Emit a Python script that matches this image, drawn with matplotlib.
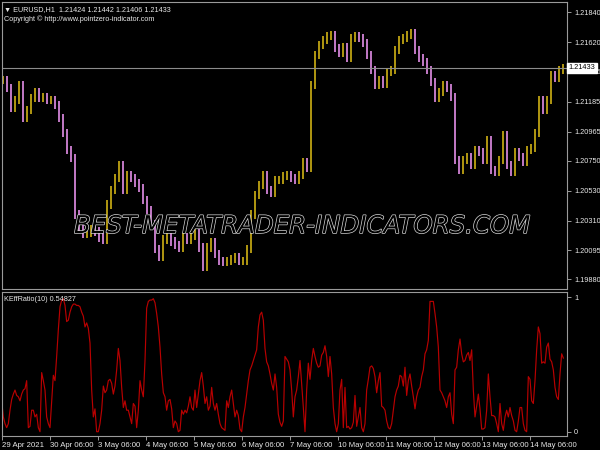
import numpy as np
import matplotlib.pyplot as plt
import matplotlib.patheffects as pe
from matplotlib.transforms import blended_transform_factory

# EURUSD H1 closes, one value every 2 bars
closes = [
    1.21343, 1.21284, 1.21138, 1.21196, 1.21306, 1.21065, 1.21123, 1.21211, 1.21255, 1.21211,
    1.21218, 1.21196, 1.21196, 1.21160, 1.21065, 1.20955, 1.20831, 1.20772, 1.20356, 1.20260,
    1.20210, 1.20224, 1.20246, 1.20231, 1.20187, 1.20173, 1.20429, 1.20538, 1.20626, 1.20721,
    1.20538, 1.20648, 1.20626, 1.20590, 1.20553, 1.20465, 1.20392, 1.20282, 1.20100, 1.20041,
    1.20173, 1.20187, 1.20158, 1.20129, 1.20114, 1.20187, 1.20173, 1.20202, 1.20224, 1.20114,
    1.19968, 1.20114, 1.20151, 1.20063, 1.20012, 1.20005, 1.20012, 1.20027, 1.20041, 1.20012,
    1.20012, 1.20100, 1.20356, 1.20502, 1.20575, 1.20648, 1.20538, 1.20516, 1.20611, 1.20611,
    1.20641, 1.20648, 1.20626, 1.20611, 1.20648, 1.20743, 1.20699, 1.21306, 1.21526, 1.21599,
    1.21635, 1.21665, 1.21672, 1.21577, 1.21540, 1.21584, 1.21504, 1.21650, 1.21665, 1.21650,
    1.21613, 1.21526, 1.21416, 1.21306, 1.21343, 1.21313, 1.21401, 1.21416, 1.21562, 1.21635,
    1.21650, 1.21672, 1.21686, 1.21562, 1.21504, 1.21474, 1.21416, 1.21328, 1.21211, 1.21255,
    1.21306, 1.21284, 1.21218, 1.20758, 1.20685, 1.20758, 1.20780, 1.20721, 1.20831, 1.20816,
    1.20758, 1.20904, 1.20685, 1.20670, 1.20758, 1.20940, 1.20721, 1.20670, 1.20816, 1.20780,
    1.20743, 1.20831, 1.20845, 1.20955, 1.21196, 1.21123, 1.21196, 1.21379, 1.21357, 1.21416,
    1.21433,
]

# KEffRatio(10) values
keff = [
    0.44, 0.23, 0.11, 0.06, 0.03, 0.06, 0.16, 0.24, 0.28, 0.31,
    0.27, 0.26, 0.23, 0.28, 0.31, 0.32, 0.38, 0.03, 0.04, 0.16,
    0.16, 0.11, 0.13, 0.03, 0.00, 0.44, 0.38, 0.31, 0.11, 0.06,
    0.03, 0.23, 0.42, 0.38, 0.56, 0.76, 0.93, 0.98, 0.99, 0.94,
    0.82, 0.83, 0.89, 0.93, 0.95, 0.95, 0.94, 0.94, 0.93, 0.89,
    0.86, 0.78, 0.81, 0.77, 0.66, 0.31, 0.11, 0.17, 0.00, 0.00,
    0.06, 0.16, 0.34, 0.29, 0.31, 0.38, 0.39, 0.36, 0.28, 0.34,
    0.46, 0.62, 0.53, 0.33, 0.18, 0.23, 0.16, 0.16, 0.11, 0.06,
    0.21, 0.19, 0.03, 0.16, 0.38, 0.31, 0.26, 0.53, 0.92, 0.97,
    0.98, 0.98, 0.99, 0.96, 0.88, 0.78, 0.63, 0.43, 0.29, 0.26,
    0.16, 0.23, 0.24, 0.17, 0.03, 0.08, 0.06, 0.00, 0.01, 0.16,
    0.13, 0.16, 0.14, 0.19, 0.26, 0.18, 0.16, 0.31, 0.18, 0.28,
    0.38, 0.44, 0.34, 0.21, 0.26, 0.16, 0.19, 0.33, 0.21, 0.16,
    0.21, 0.13, 0.06, 0.03, 0.02, 0.01, 0.23, 0.18, 0.26, 0.31,
    0.21, 0.11, 0.16, 0.12, 0.02, 0.00, 0.11, 0.18, 0.28, 0.38,
    0.46, 0.49, 0.53, 0.57, 0.61, 0.78, 0.87, 0.89, 0.83, 0.62,
    0.52, 0.49, 0.43, 0.36, 0.31, 0.43, 0.33, 0.13,
    0.07, 0.04, 0.08, 0.56, 0.54, 0.52, 0.46, 0.31, 0.11, 0.26,
    0.31, 0.41, 0.53, 0.36, 0.18, 0.00, 0.31, 0.51, 0.39, 0.53,
    0.62, 0.56, 0.51, 0.48, 0.49, 0.57, 0.59, 0.64, 0.56, 0.41,
    0.56, 0.43, 0.18, 0.06, 0.00, 0.06, 0.31, 0.39, 0.03, 0.33,
    0.03, 0.04, 0.02, 0.03, 0.07, 0.27, 0.04, 0.11, 0.18, 0.03,
    0.00, 0.06, 0.31, 0.39, 0.48, 0.49, 0.47, 0.41, 0.29, 0.38,
    0.44, 0.19, 0.18, 0.16, 0.08, 0.03, 0.02, 0.06, 0.16, 0.26,
    0.31, 0.34, 0.42, 0.41, 0.34, 0.48, 0.27, 0.38, 0.43, 0.34,
    0.26, 0.17, 0.26, 0.31, 0.33, 0.41, 0.46, 0.58, 0.61, 0.68,
    0.97, 0.97, 0.97, 0.88, 0.78, 0.63, 0.31, 0.29, 0.26, 0.23,
    0.18, 0.26, 0.29, 0.13, 0.06, 0.46, 0.48, 0.61, 0.69, 0.58,
    0.52, 0.53, 0.57, 0.59, 0.53, 0.61, 0.31, 0.11, 0.19, 0.28,
    0.17, 0.02, 0.02, 0.03, 0.16, 0.43, 0.26, 0.12, 0.12, 0.11,
    0.06, 0.00, 0.21, 0.06, 0.01, 0.11, 0.16, 0.11, 0.18, 0.12,
    0.08, 0.01, 0.00, 0.08, 0.18, 0.18, 0.06, 0.01, 0.00, 0.41,
    0.39, 0.23, 0.21, 0.38, 0.61, 0.78, 0.73, 0.51, 0.52, 0.51,
    0.63, 0.66, 0.54, 0.52, 0.46, 0.33, 0.26, 0.24, 0.43, 0.58, 0.548,
]

price_ticks = [1.21840, 1.21620, 1.21405, 1.21185, 1.20965, 1.20750,
               1.20530, 1.20310, 1.20095, 1.19880]
date_labels = ['29 Apr 2021', '30 Apr 06:00', '3 May 06:00', '4 May 06:00',
               '5 May 06:00', '6 May 06:00', '7 May 06:00', '10 May 06:00',
               '11 May 06:00', '12 May 06:00', '13 May 06:00', '14 May 06:00']
last_price = 1.21433
header = '\u25bc EURUSD,H1  1.21424 1.21442 1.21406 1.21433'

FONT = ['Liberation Sans', 'DejaVu Sans']
plt.rcParams['font.family'] = FONT
UP = '#bfa313'
DOWN = '#d283d6'
FRAME = '#9a9a9a'
TXT = '#e8e8e8'

fig = plt.figure(figsize=(6, 4.5), dpi=100, facecolor='black')
ax1 = fig.add_axes([2 / 600, 1 - 289 / 450, 565 / 600, 287 / 450])
ax2 = fig.add_axes([2 / 600, 1 - 436 / 450, 565 / 600, 144 / 450], sharex=ax1)

for ax in (ax1, ax2):
    ax.set_facecolor('black')
    for s in ax.spines.values():
        s.set_color(FRAME)
        s.set_linewidth(0.8)

# price bars (open = previous close)
c = np.array(closes)
o = np.concatenate([[c[0]], c[:-1]])
x_bars = 0.5 + 2 * np.arange(len(c))
wick = 0.0003
up = c >= o
ax1.vlines(x_bars[up], np.minimum(o, c)[up] - wick, np.maximum(o, c)[up] + wick,
           color=UP, linewidth=1.3)
ax1.vlines(x_bars[~up], np.minimum(o, c)[~up] - wick, np.maximum(o, c)[~up] + wick,
           color=DOWN, linewidth=1.3)
ax1.axhline(last_price, color='#8c8c8c', linewidth=0.8)

ax1.set_xlim(0, 282.5)
ax1.set_ylim(1.19809, 1.21916)
ax1.yaxis.tick_right()
ax1.set_yticks(price_ticks)
ax1.set_yticklabels(['%.5f' % p for p in price_ticks])
ax1.tick_params(axis='y', colors=FRAME, labelcolor=TXT, labelsize=5.3, length=3,
                width=0.7, pad=2)
ax1.tick_params(axis='x', bottom=False, labelbottom=False)

tr = blended_transform_factory(ax1.transAxes, ax1.transData)
ax1.text(1.003, last_price, '%.5f' % last_price, transform=tr, fontsize=5.3,
         color='black', va='center', ha='left', zorder=10,
         bbox=dict(boxstyle='square,pad=0.2', facecolor='white', edgecolor='white'))

ax1.text(0.004, 0.985, header, transform=ax1.transAxes, fontsize=5.2, color=TXT,
         va='top', ha='left')
ax1.text(0.004, 0.955, 'Copyright \u00a9 http://www.pointzero-indicator.com',
         transform=ax1.transAxes, fontsize=5.2, color=TXT, va='top', ha='left')

# indicator pane
kx = np.arange(len(keff)) * 5 / 6 - 1
ax2.plot(kx, keff, color='#b80000', linewidth=0.85)
ax2.set_ylim(-0.032, 1.04)
ax2.yaxis.tick_right()
ax2.set_yticks([0, 1])
ax2.set_yticklabels(['0', '1'])
ax2.tick_params(axis='y', colors=FRAME, labelcolor=TXT, labelsize=5.3, length=3,
                width=0.7, pad=2)
ax2.set_xticks(np.arange(len(date_labels)) * 24)
ax2.set_xticklabels(date_labels, ha='left')
ax2.tick_params(axis='x', colors=FRAME, labelcolor=TXT, labelsize=5.6, length=3,
                width=0.7, pad=1.5)
ax2.text(0.004, 0.975, 'KEffRatio(10) 0.54827', transform=ax2.transAxes,
         fontsize=5.2, color=TXT, va='top', ha='left')

fig.text(0.502, 1 - 226 / 450, 'BEST-METATRADER-INDICATORS.COM', ha='center',
         va='center', fontsize=17.6, style='italic', family='DejaVu Sans',
         color='black',
         path_effects=[pe.withStroke(linewidth=1.0, foreground='#d8d8d8')])

fig.savefig('out.png', dpi=100, facecolor='black')
